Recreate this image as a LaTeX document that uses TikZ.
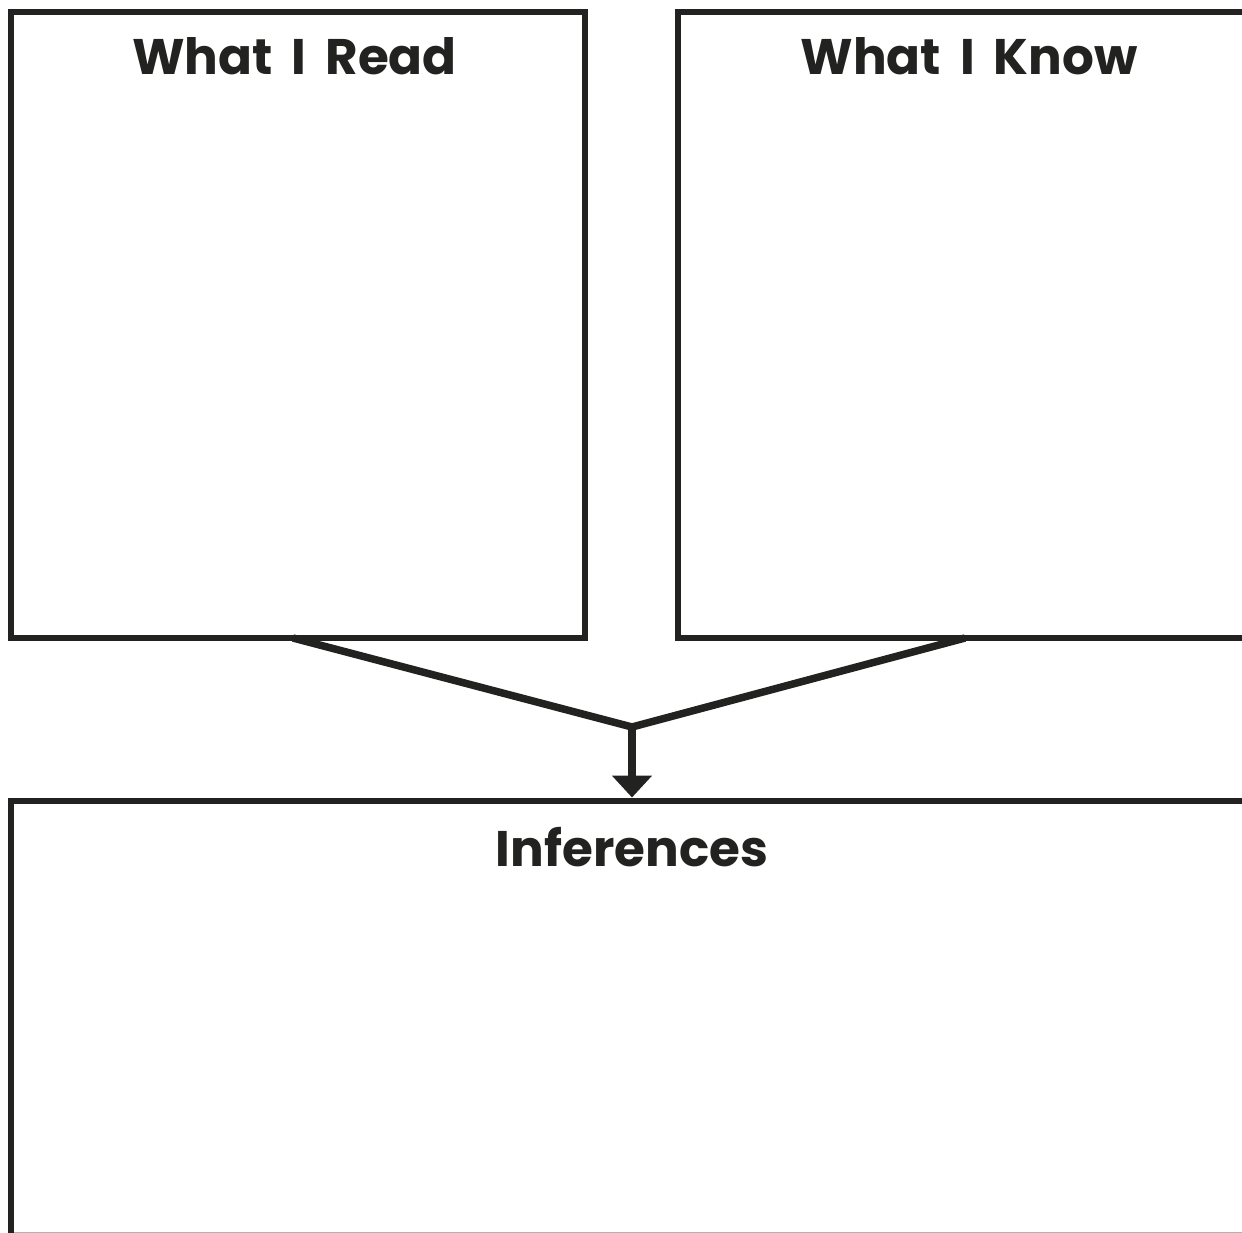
\documentclass[tikz,border=0pt]{standalone}
\usepackage{fontspec}
\setmainfont{Poppins}[WordSpace=1.8]
\usetikzlibrary{arrows.meta}
\definecolor{ink}{RGB}{34,34,32}
\begin{document}
\begin{tikzpicture}[x=1pt,y=-1pt,
  panel/.style={draw=ink,line width=6pt,minimum width=#1,inner sep=0pt},
  title/.style={anchor=base,text=ink,font=\fontsize{50}{60}\selectfont\bfseries},
  link/.style={draw=ink,line width=7.5pt,line join=miter}]
\useasboundingbox (0,0) rectangle (1242,1233);
\clip (0,0) rectangle (1242,1233);
\fill[white] (0,0) rectangle (1242,1233);
\node[panel=573.5pt,minimum height=626pt] (read) at (297.75,325) {};
\node[panel=583pt,minimum height=626pt] (know) at (969,325) {};
\node[panel=1242pt,minimum height=520pt] (infer) at (632,1060.5) {};
\node[title] (tread) at (294.5,75) {What I Read};
\node[title] (tknow) at (969,75) {What I Know};
\node[title] (tinfer) at (632,866) {Inferences};
\coordinate (ljoin) at (293,638);
\coordinate (rjoin) at (965,638);
\coordinate (vertex) at (632,727);
\draw[link] (ljoin) -- (vertex) -- (rjoin);
\draw[draw=ink,line width=8pt,-{Triangle[width=39pt,length=22pt]}] (vertex) -- (infer.north -| vertex);
\draw[gray!60,line width=1pt] (14,1232.5) -- (1242,1232.5);
\end{tikzpicture}
\end{document}
